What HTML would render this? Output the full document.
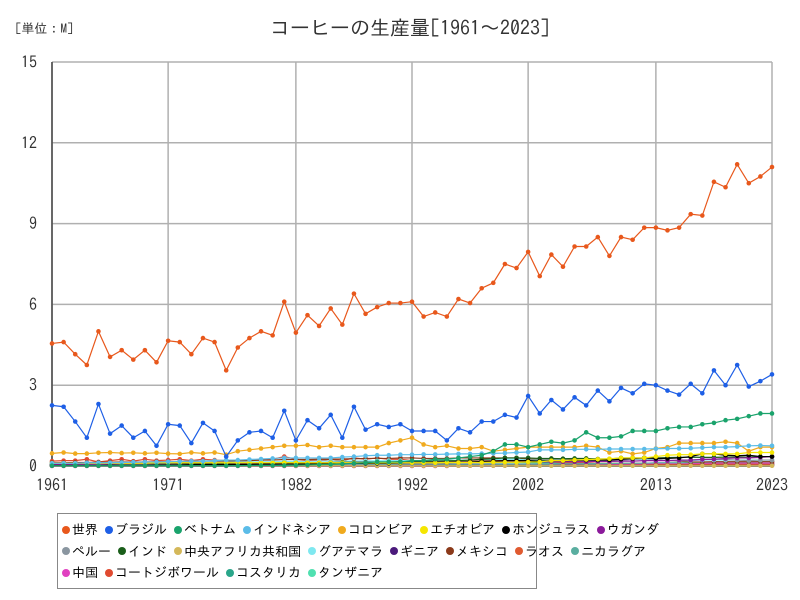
<!DOCTYPE html>
<html><head><meta charset="utf-8">
<style>
body{margin:0;background:#fff;font-family:"IPAGothic","Noto Sans CJK JP",sans-serif;}
svg text{font-family:"IPAGothic","Noto Sans CJK JP",sans-serif;}
#wrap{position:relative;width:800px;height:600px;overflow:hidden;}
#legend{position:absolute;left:57px;top:513px;width:480px;height:76px;border:1px solid #888;box-sizing:border-box;padding:5px 0 0 4px;font-size:13px;}
.row{display:flex;height:21.5px;align-items:center;white-space:nowrap;}
.le{display:flex;align-items:center;margin-right:7px;}
.dot{width:8px;height:8px;border-radius:50%;margin-right:2px;}
</style></head><body>
<div id="wrap">
<svg id="svg" width="800" height="600"></svg>
<div id="legend"></div>
</div>
<script>
const years=[];for(let y=1961;y<=2023;y++)years.push(y);
const xTickLabels=["1961","1971","1982","1992","2002","2013","2023"];
const yTickLabels=[0,3,6,9,12,15];
const seriesNames=["世界","ブラジル","ベトナム","インドネシア","コロンビア","エチオピア","ホンジュラス","ウガンダ","ペルー","インド","中央アフリカ共和国","グアテマラ","ギニア","メキシコ","ラオス","ニカラグア","中国","コートジボワール","コスタリカ","タンザニア"];
const seriesColors=["#e8581c","#1e5fe6","#1aa36c","#5bbce8","#f0aa1e","#f5e600","#000000","#8b1a9b","#8a96a0","#1a5e1a","#d4b85a","#7fe8f0","#4b1a7b","#8b3a1a","#e05a30","#5aaea0","#e040c0","#e04a30","#2aa68a","#50e0b0"];
const world=[4.55,4.6,4.15,3.75,5.0,4.05,4.3,3.95,4.3,3.85,4.65,4.6,4.15,4.75,4.6,3.55,4.4,4.75,5.0,4.85,6.1,4.95,5.6,5.2,5.85,5.25,6.4,5.65,5.9,6.05,6.05,6.1,5.55,5.7,5.55,6.2,6.05,6.6,6.8,7.5,7.35,7.95,7.05,7.85,7.4,8.15,8.15,8.5,7.8,8.5,8.4,8.85,8.85,8.75,8.85,9.35,9.3,10.55,10.35,11.2,10.5,10.75,11.1];
const brazil=[2.25,2.2,1.65,1.05,2.3,1.2,1.5,1.05,1.3,0.75,1.55,1.5,0.85,1.6,1.3,0.35,0.95,1.25,1.3,1.05,2.05,0.95,1.7,1.4,1.9,1.05,2.2,1.35,1.55,1.45,1.55,1.3,1.3,1.3,0.95,1.4,1.25,1.65,1.65,1.9,1.8,2.6,1.95,2.45,2.1,2.55,2.25,2.8,2.4,2.9,2.7,3.05,3.0,2.8,2.65,3.05,2.7,3.55,3.0,3.75,2.95,3.15,3.4];
const vietnam=[0.01,0.01,0.01,0.01,0.01,0.01,0.01,0.01,0.01,0.01,0.01,0.01,0.01,0.01,0.01,0.01,0.01,0.02,0.02,0.02,0.02,0.03,0.04,0.05,0.06,0.08,0.1,0.12,0.15,0.15,0.15,0.2,0.2,0.25,0.25,0.3,0.35,0.4,0.55,0.8,0.8,0.7,0.8,0.9,0.85,0.95,1.25,1.05,1.05,1.1,1.3,1.3,1.3,1.4,1.45,1.45,1.55,1.6,1.7,1.75,1.85,1.95,1.95];
const indonesia=[0.1,0.1,0.1,0.12,0.12,0.12,0.13,0.14,0.15,0.15,0.16,0.17,0.18,0.18,0.2,0.22,0.22,0.24,0.26,0.28,0.3,0.3,0.3,0.3,0.3,0.33,0.35,0.38,0.4,0.4,0.42,0.42,0.43,0.43,0.44,0.45,0.45,0.46,0.47,0.48,0.5,0.52,0.6,0.6,0.6,0.62,0.62,0.62,0.63,0.63,0.63,0.63,0.64,0.65,0.65,0.66,0.68,0.7,0.7,0.72,0.75,0.76,0.75];
const colombia=[0.47,0.5,0.46,0.46,0.49,0.5,0.48,0.49,0.47,0.49,0.46,0.45,0.5,0.47,0.5,0.42,0.55,0.6,0.65,0.7,0.75,0.75,0.78,0.7,0.75,0.7,0.7,0.7,0.7,0.85,0.95,1.05,0.8,0.7,0.75,0.65,0.65,0.7,0.55,0.6,0.65,0.7,0.7,0.7,0.7,0.7,0.75,0.7,0.5,0.55,0.45,0.5,0.65,0.7,0.85,0.85,0.85,0.85,0.9,0.85,0.55,0.7,0.7];
const ethiopia=[0.1,0.1,0.1,0.1,0.1,0.1,0.1,0.1,0.1,0.12,0.12,0.12,0.12,0.12,0.12,0.12,0.12,0.12,0.12,0.12,0.12,0.12,0.12,0.12,0.12,0.12,0.12,0.12,0.12,0.12,0.12,0.12,0.12,0.12,0.13,0.13,0.13,0.13,0.14,0.14,0.14,0.15,0.15,0.2,0.2,0.22,0.24,0.25,0.27,0.3,0.3,0.3,0.35,0.4,0.42,0.42,0.45,0.45,0.45,0.45,0.5,0.5,0.5];
const honduras=[0.02,0.02,0.02,0.02,0.02,0.03,0.03,0.03,0.03,0.04,0.04,0.04,0.05,0.05,0.05,0.05,0.06,0.06,0.07,0.07,0.08,0.08,0.08,0.08,0.09,0.09,0.1,0.1,0.1,0.1,0.11,0.12,0.12,0.13,0.13,0.14,0.15,0.17,0.18,0.2,0.2,0.2,0.18,0.2,0.2,0.21,0.22,0.22,0.22,0.25,0.28,0.3,0.28,0.28,0.3,0.35,0.45,0.45,0.4,0.38,0.4,0.35,0.35];
const uganda=[0.05,0.06,0.07,0.07,0.08,0.08,0.1,0.1,0.1,0.11,0.11,0.11,0.12,0.12,0.12,0.12,0.1,0.1,0.1,0.1,0.1,0.1,0.12,0.12,0.12,0.12,0.13,0.13,0.13,0.13,0.13,0.13,0.13,0.13,0.13,0.15,0.15,0.15,0.15,0.15,0.15,0.15,0.15,0.16,0.16,0.16,0.16,0.17,0.17,0.18,0.18,0.2,0.2,0.2,0.22,0.22,0.24,0.25,0.28,0.3,0.3,0.32,0.35];
const peru=[0.04,0.04,0.04,0.04,0.05,0.05,0.05,0.05,0.05,0.05,0.05,0.05,0.05,0.05,0.05,0.05,0.05,0.05,0.06,0.06,0.06,0.06,0.06,0.07,0.07,0.07,0.07,0.08,0.08,0.08,0.08,0.08,0.08,0.08,0.09,0.1,0.1,0.11,0.12,0.13,0.14,0.15,0.15,0.15,0.16,0.17,0.18,0.2,0.2,0.22,0.25,0.28,0.25,0.2,0.2,0.22,0.25,0.26,0.24,0.22,0.2,0.22,0.22];
const india=[0.05,0.05,0.05,0.05,0.05,0.06,0.06,0.06,0.06,0.06,0.06,0.07,0.07,0.08,0.08,0.08,0.09,0.1,0.1,0.11,0.12,0.12,0.12,0.12,0.13,0.14,0.14,0.14,0.15,0.15,0.16,0.17,0.17,0.18,0.19,0.2,0.22,0.25,0.27,0.3,0.3,0.3,0.28,0.28,0.27,0.28,0.28,0.26,0.26,0.3,0.3,0.3,0.3,0.31,0.32,0.33,0.32,0.32,0.33,0.33,0.33,0.34,0.35];
const car=[0.01,0.01,0.01,0.01,0.01,0.01,0.01,0.01,0.01,0.01,0.01,0.01,0.01,0.01,0.01,0.01,0.01,0.01,0.01,0.01,0.01,0.01,0.01,0.01,0.01,0.01,0.01,0.01,0.01,0.01,0.01,0.01,0.01,0.01,0.01,0.01,0.01,0.01,0.01,0.01,0.01,0.01,0.01,0.01,0.01,0.01,0.01,0.01,0.01,0.01,0.01,0.01,0.01,0.01,0.01,0.01,0.01,0.01,0.01,0.01,0.01,0.01,0.01];
const guatemala=[0.1,0.1,0.1,0.1,0.11,0.11,0.11,0.12,0.12,0.12,0.13,0.13,0.13,0.14,0.14,0.14,0.15,0.15,0.16,0.16,0.17,0.17,0.17,0.18,0.18,0.18,0.18,0.19,0.19,0.2,0.2,0.2,0.21,0.21,0.21,0.22,0.22,0.23,0.24,0.25,0.25,0.22,0.22,0.22,0.22,0.22,0.24,0.24,0.24,0.24,0.24,0.24,0.22,0.2,0.2,0.2,0.22,0.22,0.22,0.22,0.22,0.22,0.22];
const guinea=[0.01,0.01,0.01,0.01,0.01,0.01,0.01,0.01,0.01,0.01,0.01,0.01,0.01,0.01,0.01,0.01,0.01,0.01,0.01,0.01,0.01,0.01,0.01,0.01,0.01,0.01,0.01,0.01,0.01,0.01,0.02,0.02,0.02,0.02,0.02,0.02,0.02,0.02,0.02,0.02,0.02,0.02,0.02,0.02,0.02,0.02,0.02,0.02,0.02,0.02,0.02,0.02,0.02,0.02,0.02,0.02,0.02,0.02,0.02,0.02,0.02,0.02,0.02];
const mexico=[0.12,0.12,0.13,0.13,0.14,0.14,0.15,0.15,0.15,0.16,0.16,0.17,0.17,0.18,0.18,0.18,0.19,0.2,0.22,0.22,0.24,0.24,0.24,0.25,0.25,0.26,0.27,0.28,0.28,0.28,0.3,0.3,0.28,0.28,0.28,0.3,0.3,0.3,0.3,0.3,0.3,0.25,0.25,0.25,0.25,0.25,0.25,0.25,0.25,0.25,0.25,0.25,0.25,0.2,0.18,0.15,0.15,0.16,0.16,0.16,0.16,0.16,0.16];
const laos=[0.01,0.01,0.01,0.01,0.01,0.01,0.01,0.01,0.01,0.01,0.01,0.01,0.01,0.01,0.01,0.01,0.01,0.01,0.01,0.01,0.01,0.01,0.01,0.01,0.01,0.01,0.01,0.01,0.01,0.01,0.01,0.01,0.01,0.01,0.01,0.01,0.01,0.02,0.02,0.02,0.02,0.02,0.02,0.02,0.03,0.03,0.03,0.03,0.03,0.03,0.04,0.04,0.05,0.05,0.05,0.05,0.05,0.05,0.05,0.05,0.05,0.05,0.05];
const nicaragua=[0.03,0.03,0.03,0.03,0.03,0.03,0.03,0.03,0.04,0.04,0.04,0.04,0.04,0.04,0.05,0.05,0.05,0.05,0.05,0.05,0.05,0.05,0.05,0.05,0.05,0.05,0.04,0.04,0.04,0.04,0.04,0.04,0.04,0.04,0.05,0.05,0.06,0.06,0.07,0.08,0.08,0.08,0.08,0.08,0.08,0.08,0.09,0.09,0.09,0.1,0.1,0.1,0.12,0.12,0.12,0.13,0.14,0.15,0.15,0.15,0.15,0.16,0.16];
const china=[0.0,0.0,0.0,0.0,0.0,0.0,0.0,0.0,0.0,0.0,0.0,0.0,0.0,0.0,0.0,0.0,0.0,0.0,0.0,0.0,0.0,0.0,0.0,0.0,0.0,0.0,0.0,0.0,0.0,0.0,0.0,0.0,0.0,0.0,0.0,0.01,0.01,0.01,0.01,0.02,0.02,0.02,0.02,0.02,0.03,0.03,0.03,0.04,0.05,0.05,0.06,0.07,0.08,0.09,0.1,0.1,0.1,0.11,0.11,0.11,0.11,0.11,0.11];
const ivory=[0.18,0.2,0.2,0.25,0.15,0.2,0.25,0.18,0.25,0.2,0.22,0.25,0.2,0.25,0.22,0.2,0.2,0.2,0.22,0.25,0.35,0.25,0.2,0.2,0.25,0.2,0.3,0.25,0.3,0.25,0.25,0.2,0.15,0.15,0.15,0.2,0.2,0.2,0.22,0.2,0.2,0.15,0.15,0.15,0.12,0.12,0.12,0.1,0.1,0.1,0.1,0.1,0.1,0.1,0.1,0.1,0.1,0.1,0.1,0.1,0.1,0.1,0.1];
const costarica=[0.05,0.05,0.06,0.06,0.06,0.06,0.07,0.07,0.07,0.08,0.08,0.08,0.08,0.09,0.09,0.09,0.1,0.1,0.1,0.1,0.11,0.11,0.12,0.12,0.12,0.12,0.13,0.13,0.14,0.14,0.15,0.15,0.15,0.15,0.15,0.15,0.15,0.15,0.15,0.15,0.14,0.13,0.12,0.12,0.11,0.11,0.1,0.1,0.1,0.1,0.1,0.1,0.1,0.08,0.08,0.08,0.08,0.08,0.08,0.08,0.08,0.08,0.08];
const tanzania=[0.03,0.03,0.03,0.03,0.04,0.04,0.04,0.04,0.05,0.05,0.05,0.05,0.05,0.05,0.05,0.05,0.05,0.05,0.05,0.05,0.05,0.05,0.05,0.05,0.05,0.05,0.05,0.05,0.05,0.05,0.05,0.05,0.05,0.05,0.05,0.05,0.05,0.05,0.05,0.05,0.05,0.05,0.05,0.05,0.05,0.05,0.05,0.05,0.05,0.05,0.05,0.05,0.05,0.05,0.05,0.05,0.05,0.05,0.05,0.05,0.05,0.05,0.05];
const seriesValues=[world,brazil,vietnam,indonesia,colombia,ethiopia,honduras,uganda,peru,india,car,guatemala,guinea,mexico,laos,nicaragua,china,ivory,costarica,tanzania];

const L=52,R=772,T=62,B=466,ymax=15;
const xs=i=>L+(R-L)*i/(years.length-1);
const ys=v=>B-(B-T)*v/ymax;
const NS="http://www.w3.org/2000/svg";
const svg=document.getElementById('svg');
function mk(tag,at,parent){const e=document.createElementNS(NS,tag);for(const k in at)e.setAttribute(k,at[k]);(parent||svg).appendChild(e);return e;}
let t=mk('text',{x:15,y:33,'font-size':13,fill:'#333'});t.textContent='[単位：M]';


t=mk('text',{x:410,y:35,'font-size':20,'text-anchor':'middle',fill:'#333'});t.textContent='コーヒーの生産量[1961～2023]';


yTickLabels.forEach(v=>{
  const g=mk('line',{x1:L,x2:R,y1:ys(v),y2:ys(v),stroke:'#b0b0b0','stroke-width':1.5});
  
  
  const tx=mk('text',{x:37,y:ys(v)+6,'font-size':16,'text-anchor':'end',fill:'#333'});tx.textContent=v;
  
  
});
xTickLabels.forEach(lb=>{
  const i=years.indexOf(+lb);
  const g=mk('line',{x1:xs(i),x2:xs(i),y1:T,y2:B,stroke:'#b0b0b0','stroke-width':1.5});
  
  
  const tx=mk('text',{x:xs(i),y:491,'font-size':16,'text-anchor':'middle',fill:'#333'});tx.textContent=lb;
  
  
});
const ax=mk('path',{d:`M${L} ${T}V${B}H${R}`,stroke:'#444','stroke-width':1.5,fill:'none'});


for(let s=seriesValues.length-1;s>=0;s--){
  const vals=seriesValues[s],c=seriesColors[s];
  const g=mk('g',{});
  
  
  mk('polyline',{points:vals.map((v,i)=>xs(i)+','+ys(v)).join(' '),fill:'none',stroke:c,'stroke-width':1.2},g);
  vals.forEach((v,i)=>{const p=mk('circle',{cx:xs(i),cy:ys(v),r:2.3,fill:c},g);
    
    });
}
const rows=[[0,1,2,3,4,5,6,7],[8,9,10,11,12,13,14,15],[16,17,18,19]];
const leg=document.getElementById('legend');
rows.forEach(r=>{const row=document.createElement('div');row.className='row';leg.appendChild(row);
  r.forEach(i=>{const e=document.createElement('div');e.className='le';
    
    
    e.innerHTML=`<span class="dot" style="background:${seriesColors[i]}"></span><span>${seriesNames[i]}</span>`;row.appendChild(e);});});
</script>
</body></html>
